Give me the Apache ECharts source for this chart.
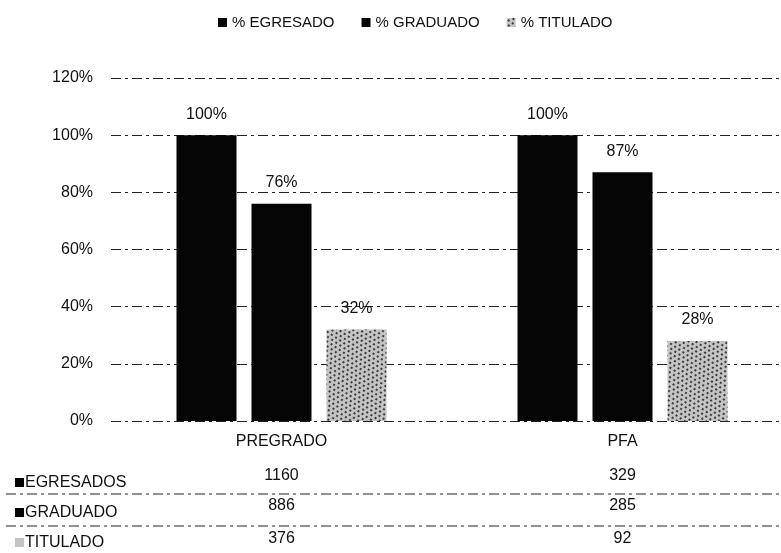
<!DOCTYPE html>
<html>
<head>
<meta charset="utf-8">
<script src="https://cdn.jsdelivr.net/npm/echarts@6/dist/echarts.min.js"></script>
<style>
  html, body { margin: 0; padding: 0; background: #fff; overflow: hidden; }
  #chart { width: 781px; height: 553px; }
</style>
</head>
<body>
<div id="chart"></div>
<script>
// Programme groups
const categories = ['PREGRADO', 'PFA'];
// Percent series (bars)
const pctEgresado = [100, 100];
const pctGraduado = [76, 87];
const pctTitulado = [32, 28];
// Head counts shown in the table under the chart
const cntEgresados = [1160, 329];
const cntGraduado = [886, 285];
const cntTitulado = [376, 92];
// Value axis ticks
const yTicks = [0, 20, 40, 60, 80, 100, 120];

const FONT = '"Liberation Sans", Arial, sans-serif';
const INK = '#111';
const FS = 16;

const titDecal = {
  symbol: 'rect',
  symbolSize: 1,
  color: 'rgba(0,0,0,0.7)',
  dashArrayX: [[2, 3], [0, 2, 2, 1]],
  dashArrayY: [2, 2],
  rotation: 0.6
};

const chart = echarts.init(document.getElementById('chart'), null, { renderer: 'canvas' });

function tableAxis(values, offset) {
  return {
    type: 'category',
    data: categories,
    position: 'bottom',
    offset: offset,
    gridIndex: 0,
    axisLine: { show: false },
    axisTick: { show: false },
    axisLabel: {
      margin: 12,
      color: INK,
      fontFamily: FONT,
      fontSize: FS,
      formatter: (v, i) => String(values[i])
    }
  };
}

const barLabel = {
  show: true,
  position: 'top',
  distance: 13,
  color: INK,
  fontFamily: FONT,
  fontSize: FS,
  formatter: p => p.value + '%'
};

const option = {
  backgroundColor: '#fff',
  animation: false,
  legend: {
    top: 10,
    left: 213,
    itemWidth: 9,
    itemHeight: 9,
    itemGap: 27,
    icon: 'rect',
    textStyle: { color: INK, fontFamily: FONT, fontSize: 15 },
    data: ['% EGRESADO', '% GRADUADO', '% TITULADO']
  },
  grid: { left: 111, top: 78, width: 682, height: 343, containLabel: false, outerBoundsMode: 'none' },
  xAxis: [
    {
      type: 'category',
      data: categories,
      axisLine: { show: false },
      axisTick: { show: false },
      axisLabel: { margin: 13, color: INK, fontFamily: FONT, fontSize: FS }
    },
    tableAxis(cntEgresados, 35),
    tableAxis(cntGraduado, 65),
    tableAxis(cntTitulado, 98)
  ],
  yAxis: {
    type: 'value',
    min: yTicks[0],
    max: yTicks[yTicks.length - 1],
    interval: yTicks[1] - yTicks[0],
    axisLine: { show: false },
    axisTick: { show: false },
    axisLabel: {
      margin: 18,
      color: INK,
      fontFamily: FONT,
      fontSize: FS,
      formatter: v => v + '%'
    },
    splitLine: { lineStyle: { color: '#222', width: 1, type: [10, 4, 3, 4] } }
  },
  series: [
    {
      name: '% EGRESADO', type: 'bar', data: pctEgresado,
      barWidth: 60, barGap: '25%',
      itemStyle: { color: '#050505' }, label: barLabel
    },
    {
      name: '% GRADUADO', type: 'bar', data: pctGraduado,
      barWidth: 60, barGap: '25%',
      itemStyle: { color: '#050505' }, label: barLabel
    },
    {
      name: '% TITULADO', type: 'bar', data: pctTitulado,
      barWidth: 60, barGap: '25%',
      itemStyle: { color: '#c4c4c4', decal: titDecal }, label: barLabel
    }
  ],
  graphic: [
    // table row separators
    { type: 'line', shape: { x1: 6, y1: 494, x2: 781, y2: 494 },
      style: { stroke: '#222', lineWidth: 1, lineDash: [10, 4, 3, 4] } },
    { type: 'line', shape: { x1: 6, y1: 526, x2: 781, y2: 526 },
      style: { stroke: '#222', lineWidth: 1, lineDash: [10, 4, 3, 4] } },
    // row headers with legend keys
    { type: 'rect', shape: { x: 15, y: 478, width: 9, height: 9 }, style: { fill: '#050505' } },
    { type: 'text', x: 25, y: 483, style: { text: 'EGRESADOS', fill: INK, font: FS + 'px ' + FONT, textVerticalAlign: 'middle' } },
    { type: 'rect', shape: { x: 15, y: 508, width: 9, height: 9 }, style: { fill: '#050505' } },
    { type: 'text', x: 25, y: 513, style: { text: 'GRADUADO', fill: INK, font: FS + 'px ' + FONT, textVerticalAlign: 'middle' } },
    { type: 'rect', shape: { x: 15, y: 538, width: 9, height: 9 }, style: { fill: '#c4c4c4' } },
    { type: 'text', x: 25, y: 543, style: { text: 'TITULADO', fill: INK, font: FS + 'px ' + FONT, textVerticalAlign: 'middle' } }
  ]
};

chart.setOption(option);
</script>
</body>
</html>
